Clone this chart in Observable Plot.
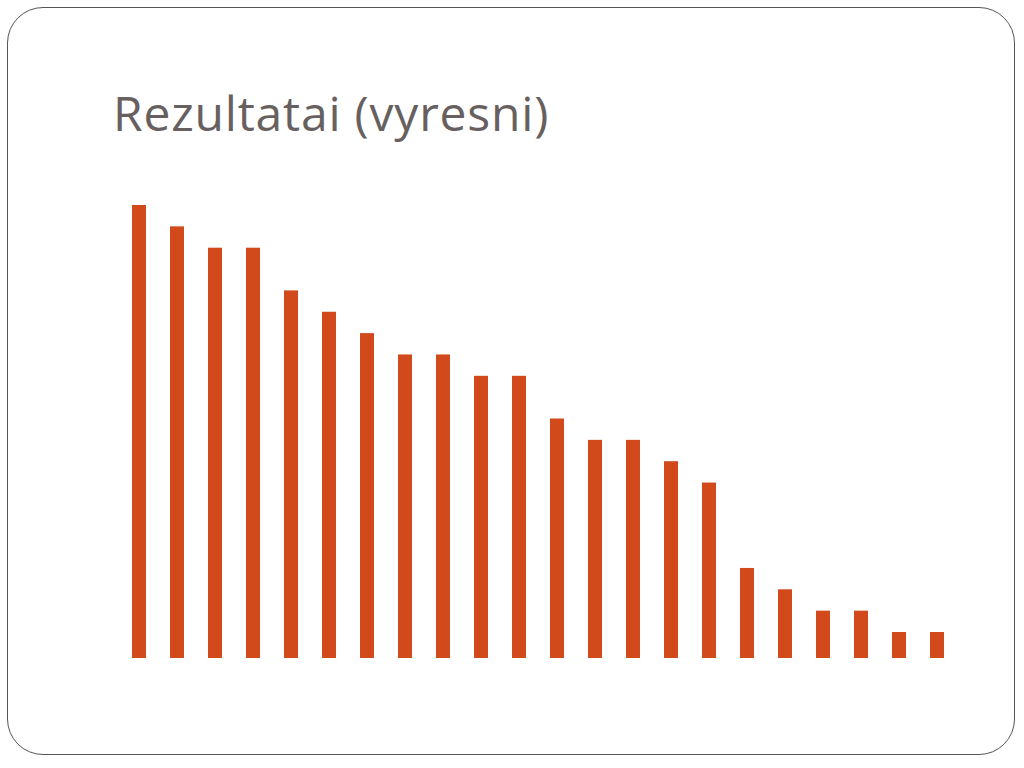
<!DOCTYPE html>
<html>
<head>
<meta charset="utf-8">
<script src="https://cdn.jsdelivr.net/npm/d3@7"></script>
<script src="https://cdn.jsdelivr.net/npm/@observablehq/plot@0.6"></script>
<style>
  html, body { margin: 0; padding: 0; background: #fff; }
  #slide { position: relative; width: 1024px; height: 768px; overflow: hidden; background: #fff; }
  #frame { position: absolute; left: 7px; top: 7px; width: 1008px; height: 748px; border: 1.3px solid #555; border-radius: 36px; box-sizing: border-box; }
  #title { position: absolute; left: 113px; top: 89px; margin: 0; font-family: "Open Sans", Lato, sans-serif; font-weight: 400; font-size: 48px; letter-spacing: 0.8px; color: #67605f; line-height: 1; white-space: nowrap; }
  #chart { position: absolute; left: 0; top: 180px; }
</style>
</head>
<body>
<div id="slide">
  <div id="frame"></div>
  <h1 id="title">Rezultatai (vyresni)</h1>
  <div id="chart"></div>
</div>
<script>
const categories = ["1","2","3","4","5","6","7","8","9","10","11","12","13","14","15","16","17","18","19","20","21","22"];
const values = [21, 20, 19, 19, 17, 16, 15, 14, 14, 13, 13, 11, 10, 10, 9, 8, 4, 3, 2, 2, 1, 1];

const data = categories.map((c, i) => ({category: c, value: values[i]}));

const chart = Plot.plot({
  width: 1024,
  height: 490,
  marginTop: 25,
  marginBottom: 16.65,
  marginLeft: 106.8,
  marginRight: 53.8,
  x: {domain: categories, padding: 0.62, axis: null},
  y: {domain: [0, 21], axis: null},
  marks: [
    Plot.barY(data, {x: "category", y: "value", fill: "#d24a1b", insetBottom: -4.65})
  ]
});
document.getElementById("chart").appendChild(chart);
</script>
</body>
</html>
